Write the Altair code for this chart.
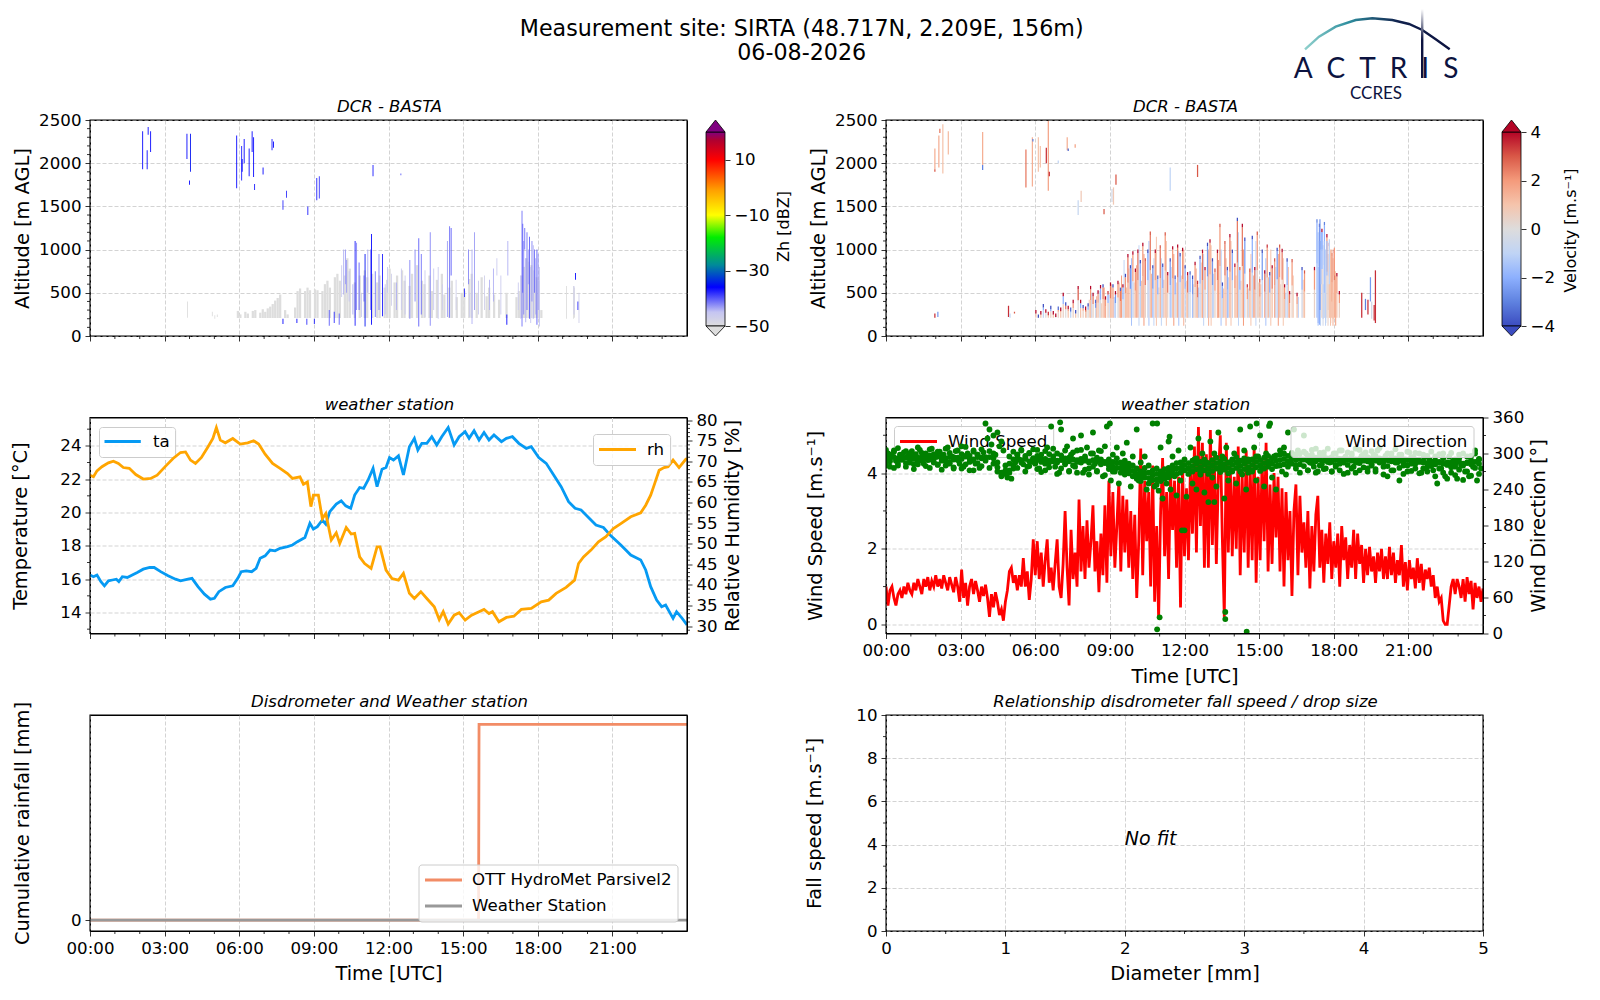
import altair as alt
import numpy as np
import pandas as pd

FONT = "DejaVu Sans"
W, H = 597, 216

# ---------- weather station: temperature / humidity
ta_h = [0,.14,.28,.44,.58,.74,.9,1.06,1.16,1.3,1.5,1.7,1.9,2.14,2.4,2.58,2.84,3.14,3.44,3.64,3.94,4.1,4.34,4.6,4.84,5,5.18,5.44,5.74,5.94,6.08,6.28,6.5,6.68,6.84,7.04,7.24,7.44,7.64,7.94,8.14,8.34,8.64,8.84,8.98,9.14,9.34,9.48,9.64,9.9,10.1,10.28,10.48,10.64,10.84,11,11.18,11.38,11.54,11.74,11.9,12.04,12.2,12.4,12.6,12.84,13.04,13.18,13.34,13.54,13.74,13.94,14.14,14.4,14.64,14.84,15.08,15.24,15.44,15.64,15.84,16.04,16.24,16.54,16.74,16.98,17.24,17.54,17.74,18.04,18.34,18.64,18.94,19.24,19.5,19.74,20.04,20.34,20.64,20.94,21.34,21.74,22.14,22.34,22.54,22.78,22.98,23.14,23.44,23.58,23.78,24]
ta_v = [16.25,16.15,16.25,15.85,15.6,15.9,15.95,16.0,15.85,16.15,16.1,16.25,16.4,16.6,16.7,16.7,16.45,16.2,16.0,15.9,16.0,16.05,15.55,15.1,14.8,14.85,15.25,15.5,15.6,16.05,16.45,16.5,16.45,16.65,17.25,17.4,17.75,17.7,17.85,17.95,18.05,18.25,18.5,19.35,19.0,19.15,19.55,19.3,20.05,20.5,20.7,20.4,20.25,21.05,21.5,21.45,21.95,22.65,21.55,22.6,22.7,23.3,23.15,23.4,22.25,23.95,24.45,23.75,24.15,24.15,24.55,24.05,24.55,25.1,24.05,24.55,24.85,24.45,24.9,24.35,24.8,24.35,24.65,24.25,24.45,24.55,24.15,23.85,23.95,23.3,22.95,22.25,21.55,20.65,20.25,20.15,19.7,19.25,19.1,18.6,18.05,17.45,17.15,16.55,15.55,14.75,14.35,14.45,13.65,14.05,13.7,13.25]
rh_h = [0,.14,.28,.48,.74,.94,1.14,1.34,1.58,1.84,2.14,2.44,2.7,3.04,3.34,3.64,3.84,4.04,4.24,4.48,4.74,4.94,5.08,5.24,5.44,5.74,6.04,6.34,6.58,6.78,7.04,7.34,7.64,7.94,8.14,8.44,8.58,8.74,8.88,8.98,9.18,9.34,9.48,9.7,9.9,10.04,10.3,10.5,10.64,10.84,11.04,11.3,11.54,11.66,11.9,12.14,12.4,12.6,12.84,13.04,13.3,13.54,13.84,14.04,14.2,14.4,14.64,14.84,15.08,15.34,15.64,15.84,16.04,16.18,16.44,16.74,17.04,17.34,17.74,18.14,18.44,18.74,19.14,19.48,19.64,19.84,20.14,20.44,20.74,21.04,21.34,21.74,22.14,22.34,22.54,22.7,22.88,23.08,23.24,23.44,23.68,23.94,24]
rh_v = [66.65,66.25,67.7,68.7,69.65,70.05,69.5,68.5,68.3,66.8,65.7,65.85,66.65,68.85,70.7,72.15,72.3,70.3,69.5,70.95,73.5,75.55,78.2,75.15,74.5,75.55,74.2,74.5,75,74.2,71.75,69.5,68.3,67.05,65.85,66.25,64.45,65,59,61.8,61.8,56.1,57.35,50.9,52.65,50.05,53.95,52.35,52.5,46.8,45.2,44,49.25,49.25,43.6,41.55,41.15,42.8,37.95,36.7,38.35,36.7,34.7,31.6,33.5,30.5,32.65,33.25,31.45,32.65,33.5,34.05,33.05,33.5,31.05,32.1,32.4,34.05,34.3,35.9,36.3,37.95,39.4,41.15,45.2,46.8,48.45,50.45,51.7,53.7,54.9,56.55,57.5,59.35,61.8,64.6,67.85,68.5,68.7,70.3,68.5,70.45,70.7]

# ---------- weather station: wind (one reading every 0.08 h)
STEP = 0.08
wind_speed = [
 1.0,0.5,0.9,1.0,0.7,0.5,0.8,0.9,0.7,1.0,0.8,1.1,0.9,0.8,1.1,0.9,1.2,1.0,0.8,1.2,1.0,1.25,0.9,1.15,1.0,
 1.3,1.0,1.2,0.95,1.3,1.1,0.9,1.25,1.05,0.85,1.25,1.0,0.6,1.45,0.7,1.1,0.5,1.0,1.2,0.8,1.15,0.9,0.6,1.0,0.75,
 1.05,0.7,0.2,0.8,0.45,0.85,0.6,0.25,0.4,0.1,0.6,0.9,1.4,1.5,1.1,1.3,0.9,1.3,1.0,1.75,1.0,1.4,0.65,1.2,2.25,
 1.3,2.2,1.2,1.9,1.0,1.7,2.25,1.1,1.5,0.9,1.6,2.25,1.0,0.7,1.6,3.0,1.5,0.5,2.5,1.2,1.9,1.0,3.3,1.4,2.6,
 1.2,2.75,1.5,2.2,3.15,1.4,2.2,0.85,2.4,1.3,3.15,1.1,3.8,1.8,3.5,1.5,2.6,3.75,1.4,3.4,1.9,3.3,1.5,3.0,1.2,
 2.9,0.7,2.2,4.65,1.3,3.8,2.2,3.5,1.0,4.2,0.6,2.6,0.15,3.0,4.4,1.8,3.5,1.2,4.0,2.5,3.8,1.5,3.9,0.45,4.3,
 1.8,3.6,1.7,4.2,2.4,4.7,1.9,5.22,2.6,4.8,1.5,4.5,1.5,5.14,2.1,4.5,1.6,3.9,5.0,2.3,0.2,4.8,1.9,4.2,1.8,
 3.9,2.0,4.7,1.3,3.9,1.9,4.6,1.5,4.2,1.7,4.7,1.1,3.9,1.7,4.4,2.2,4.8,1.4,3.7,1.6,4.0,2.3,3.9,1.4,3.6,
 1.0,3.5,1.7,3.0,0.75,3.0,3.7,1.3,3.4,1.9,2.7,1.5,3.0,0.95,2.6,1.4,2.9,3.4,1.5,2.5,1.1,2.4,1.6,2.7,1.2,2.2,
 1.5,2.4,1.0,2.6,1.7,2.3,1.2,2.1,1.5,2.5,1.2,2.4,1.6,2.1,1.1,2.0,1.3,2.05,1.4,1.8,1.1,1.9,1.4,2.0,1.2,
 1.8,1.2,2.05,1.3,1.9,1.1,1.7,1.3,2.1,1.0,1.65,0.9,1.7,1.2,1.5,0.95,1.75,1.1,1.6,0.9,1.45,1.2,1.5,1.0,1.3,
 0.7,1.0,0.6,0.7,0.1,0,0,0.5,1.0,1.2,0.8,1.2,1.0,0.7,1.2,0.6,1.25,0.8,1.15,0.4,1.1,0.7,1.0,0.6,0.95]
wind_dir = [
 285,300,278,296,305,288,280,298,292,302,284,296,290,304,282,299,287,306,291,283,300,289,297,308,285,
 294,282,303,288,298,280,310,285,295,275,304,290,283,312,278,296,300,272,288,305,283,298,276,292,302,
 350,325,340,315,330,298,335,312,320,305,280,260,268,258,275,285,298,290,305,282,296,278,300,287,292,
 283,306,275,298,288,272,310,285,345,295,278,300,268,340,290,282,312,270,298,325,278,305,287,330,268,
 292,310,275,300,335,283,270,305,288,262,312,345,280,255,298,270,310,250,285,300,265,318,278,245,295,
 270,340,255,285,262,295,240,280,255,350,245,275,238,310,225,265,250,320,240,295,262,230,305,255,280,
 172,228,275,310,250,290,240,325,265,300,235,285,219,320,260,300,245,335,275,295,225,310,255,285,270,
 300,250,285,340,265,305,240,290,345,270,310,255,295,330,275,245,300,285,350,260,295,240,280,305,270,
 310,265,335,285,295,340,275,305,268,290,330,300,272,285,298,278,308,270,295,282,302,275,290,285,270,
 300,280,292,272,305,285,295,268,290,300,278,308,285,272,296,288,302,275,292,280,298,270,305,285,290,
 278,296,262,288,300,272,292,285,255,298,280,290,270,302,283,294,275,288,300,268,285,295,278,290,282,
 272,295,250,285,275,300,262,282,295,268,288,278,258,292,280,300,270,285,262,296,278,305,255,290,275]
CORE_STEP = 0.16
dir_core_upper = [306,298,303,309,297,304,300,296,310,301,295,307,299,303,296,308,301,294,305,299,311,296,303,298,307,294,304,300,
 285,268,272,
 295,303,298,306,292,301,307,296,290,304,299,308,288,297,305,293,302,289,306,295,287,300,293,304,286,
 290,286,292,284,288,283,
 280,275,270,276,268,272,266,270,274,
 276,280,284,
 285,290,284,288,292,286,290,284,289,293,287,291,285,290,294,288,292,286,290,295,289,293,296,292,297,
 298,300,296,301,298,300,
 303,296,306,293,301,297,308,294,300,305,292,302,297,290,306,299,294,304,296,309,291,300,295,307,298,290,303,294,301,288,298,
 296,303,288,299,292,285,301,290,298,283,295,289,300,291]
dir_core_mid = [293,291,294,292,290,293,295,291,293,294,292,290,293,295,291,292,294,290,293,291,295,292,290,294,293,291,294,292,
 277,265,269,
 283,290,292,288,291,287,292,289,286,291,288,290,285,289,292,287,290,286,291,288,285,289,287,290,284,
 282,278,284,276,280,275,
 271,266,262,268,259,264,257,262,266,
 268,272,275,
 276,281,275,279,283,277,281,275,280,284,278,282,276,281,285,279,283,277,281,286,280,284,287,283,288,
 289,291,287,292,289,291,
 290,288,291,287,290,288,292,286,289,291,287,290,288,286,291,289,287,290,288,292,286,289,287,291,288,285,289,287,290,286,288,
 284,287,282,286,283,281,285,282,286,280,284,282,286,283]
dir_core_lower = [280,287,276,284,290,278,285,274,282,288,279,276,286,281,273,287,283,277,289,275,282,286,272,284,279,288,276,283,
 270,262,266,
 272,281,276,285,270,279,286,274,269,283,277,287,266,275,284,271,280,268,285,273,265,278,271,282,264,
 274,270,276,268,272,267,
 262,258,254,260,250,256,248,254,258,
 260,264,266,
 268,272,266,270,274,268,272,266,271,275,269,273,267,272,276,270,274,268,272,277,271,275,278,274,279,
 280,282,278,283,280,282,
 279,272,284,268,280,274,286,270,278,283,266,281,275,268,284,277,270,282,274,287,265,279,272,285,276,266,280,271,283,267,275,
 270,279,262,275,268,258,277,264,273,256,270,263,276,266]
dir_out_h = [10.9, 11.0, 13.64, 13.64, 14.5, 13.2, 11.9, 11.4, 10.9, 7.0, 9.0, 14.9, 15.4]
dir_out_v = [7, 27, 36, 24, 3, 219, 172, 328, 350, 352, 350, 350, 346]

# ---------- rainfall
rain_h = [0, 15.62, 15.64, 24]
rain_parsivel = [0, 0, 1, 1]
rain_station_h = [0, 24]
rain_station = [0, 0]

# ---------- radar reflectivity
GRID_START = 5.8
zh_grey_top = [
 0,290,250,0,280,260,0,290,300,0,270,310,
 280,320,340,370,410,440,480,0,300,250,
 0,0,330,520,550,0,520,560,530,0,
 540,530,0,520,600,640,560,0,680,720,
 640,0,700,900,780,0,620,0,700,0,
 760,680,0,720,0,620,700,0,560,650,
 780,0,620,700,0,760,640,0,580,720,
 0,820,0,640,600,0,700,520,0,650,
 0,720,480,0,560,640,0,450,0,500,
 520,0,660,720,0,500,0,680,0,460,
 560,0,480,0,420,0,0,500,0,0,
 0,450,520,700,800,900,860,820,760,680,
 640,300,0]
zh_t = [2.1,2.28,2.32,2.42,3.88,3.98,4.02,5.88,6.08,6.1,6.18,6.38,6.5,6.56,6.6,6.94,7.3,7.36,7.74,7.88,8.74,9.1,9.2,11.36,12.48,
 3.9,4.9,5.0,5.1,19.14,19.42,19.46,
 7.74,8.3,8.7,9.0,9.6,9.8,10.0,
 10.18,10.3,10.64,10.7,11.04,11.0,11.3,11.26,11.74,11.94,12.5,12.84,13.2,13.3,13.66,13.98,14.44,14.5,15.04,15.34,15.44,15.84,16.04,16.34,16.74,16.78,
 17.3,17.35,17.38,17.42,17.46,17.5,17.55,17.6,17.65,17.7,17.75,17.8,17.85,17.9,17.95,18.0,18.05,
 19.5,19.6,19.64,19.44,
 10.1,10.25,10.4,10.55,10.8,10.9,11.15,11.45,11.6,11.85,12.1,12.3,12.65,13.05,13.45,13.8,14.15,14.35,14.7,15.2,15.25,15.6,16.2,16.5,17.2]
zh_z0 = [1930,1930,2330,2130,2050,1750,1900,1710,1800,1900,2000,1850,2130,1840,1690,1870,2150,2180,1460,1600,1400,1570,1590,1850,1860,
 210,230,200,220,200,200,210,
 140,150,130,140,120,150,130,
 480,500,120,300,110,400,130,300,230,500,300,200,110,250,120,200,210,700,450,140,300,300,300,700,130,700,
 200,110,500,250,1000,160,300,600,200,150,400,200,500,250,130,300,110,
 650,300,150,250,
 450,600,400,250,300,220,500,220,300,250,350,300,250,400,220,300,300,220,300,600,220,250,400,250,300]
zh_z1 = [2370,2150,2420,2370,2340,1800,2340,2320,2200,2050,2280,2170,2370,2300,1760,1950,2280,2250,1570,1680,1500,1830,1850,1980,1880,
 400,280,240,250,580,580,560,
 200,200,200,200,300,280,260,
 1000,880,1100,1080,950,700,1180,1000,950,800,780,880,1130,950,1200,800,1270,1250,550,1000,1200,700,650,900,250,1100,
 700,1450,1300,1100,1250,900,1200,1000,1150,800,1100,1050,1000,900,1000,950,800,
 730,400,500,580,
 820,1000,750,600,850,500,1000,750,950,600,720,620,700,1000,760,780,600,1100,650,1000,500,640,780,700,620]
zh_val = [-36,-36,-36,-36,-36,-36,-35,-36,-37,-36,-36,-36,-36,-36,-37,-36,-37,-36,-38,-38,-37,-37,-38,-37,-40,
 -50,-50,-50,-50,-50,-50,-50,
 -36,-36,-38,-37,-40,-38,-40,
 -44,-43,-37,-42,-35,-40,-36,-42,-37,-46,-46,-42,-40,-41,-42,-46,-41,-40,-38,-44,-43,-47,-44,-46,-36,-44,
 -45,-41,-40,-42,-41,-44,-41,-43,-40,-45,-42,-44,-41,-44,-40,-43,-45,
 -36,-36,-47,-46,
 -46,-43,-45,-44,-40,-46,-44,-41,-42,-45,-47,-44,-46,-42,-46,-45,-47,-43,-47,-42,-46,-46,-44,-46,-46]

# ---------- radar velocity
VEL_START = 6.0
vel_top = [300,250,290,370,310,280,350,290,260,340,
 330,500,390,350,330,420,300,580,420,360,
 340,380,580,500,420,530,590,600,460,520,
 620,600,520,640,560,600,720,950,820,980,
 780,1000,880,1080,900,1000,1210,820,1000,700,
 1050,840,1200,740,900,1040,700,1060,960,1020,
 820,740,750,700,860,640,930,1000,800,1080,
 1120,900,780,1000,1300,620,1100,800,1180,1000,
 840,1370,800,1300,1140,600,780,1160,800,1210,
 660,1000,760,1060,740,820,900,1020,1060,1010,
 600,900,520,890,0,500,0,800,760,0,
 0,0,800,1350,1300,1240,1320,1180,1080,960,
 1000,730,520]
vel_low = [1,0,1,-1,0,1,.5,1,0,.5,
 1,.5,0,1,-1,.5,1,0,1,.5,
 1,0,1,.5,-.5,1,0,1,1.5,.5,
 1,1.5,-1,0,1.5,-.5,1,1.5,.5,-1,
 1,1.5,-1,1.5,.5,-.5,1,-1.5,1,-.5,
 1.5,-1,1,.5,-1.5,1,-.5,1.5,-1,1,
 -1,1,-.5,-1.5,.5,1,-1,1.5,.5,-1,
 1,-1,.5,1.5,1,-.5,1,-1.5,1.5,-.5,
 1,1.5,-.5,1,-1,.5,1,-1,1.5,.5,
 1,-1,1.5,.5,-.5,1,1.5,-1,1,.5,
 1,-1,1.5,.5,0,1,0,-.5,1,0,
 0,0,.5,-1.5,-1,.5,-.5,.5,1,1.5,
 1.5,1,.5]
vel_mid = [2,-2,2.5,-2,2,2.5,-2,2,3,2,
 2,-2,2.5,2,-2.5,2,2.5,3,-2,2,
 2.5,-2,2,2.5,-2.5,2,-2,2.5,2,-2,
 2.5,2,-2.5,2,2.5,-2,2,2.5,-2.5,2,
 2,2.5,-2,2,2.5,-2,2.5,-2.5,2,-2,
 2.5,-2,2,2.5,-2.5,2,-2,2.5,-2,2,
 -2,2.5,-2,-2.5,2,2.5,-2,2.5,2,-2.5,
 2,-2.5,2,2.5,2,-2,2.5,-2,2.5,-2,
 2,2.5,-2,2.5,-2.5,2,2.5,-2,2.5,2,
 2,-2.5,2.5,2,-2,2.5,2,-2.5,2,2.5,
 2,-2,2.5,2,0,2,0,-2,2,0,
 0,0,2,-2,-2.5,-2,-2,2,2,2.5,
 2.5,2,2]
vel_cap = [4,-4,4,-4,4,3.5,-4,4,4,-3.5,
 4,4,-4,4,-3.5,4,-4,4,4,-4,
 4,-4,4,4,-3.5,4,4,-4,4,3.5,
 4,-4,4,4,-3.5,4,-4,4,-4,4,
 4,4,-4,4,3,-4,3,-4,4,-3.5,
 3,-4,3,4,-4,4,-3.5,4,-4,4,
 -4,4,-3.5,-4,4,3.5,-4,4,4,-4,
 4,-4,3,4,3,-4,3,-4,4,-4,
 4,-4,3,4,-4,3.5,3,-4,4,3,
 3,-4,4,3.5,-4,4,3,-4,3,4,
 4,-4,4,3,0,4,0,-4,3,0,
 0,0,4,-3,-4,4,-3,4,4,3,
 4,4,4]
VEL2_START = 8.05
vel2_top = [300,420,500,0,460,520,380,560,0,480,
 600,450,0,620,700,880,560,780,900,620,
 820,1050,640,950,0,1100,720,900,1150,560,
 900,650,1100,0,800,950,620,980,700,1000,
 640,700,0,600,780,560,850,950,0,1000,
 1050,720,0,880,1000,550,900,680,1100,0,
 700,1200,640,1000,0,550,950,700,1100,620,
 600,0,900,680,1000,0,800,950,600,900,
 500,800,0,700,0,450,0,650,0,0,
 0,0,0,1200,1100,1050,1000,950,1000,900,
 750]
vel2_v = [.5,1,-1,0,1.5,-.5,1,2,0,-1,
 1,-1.5,0,1.5,2,-1,1,1.5,-1.5,1,
 1.5,-1,1,2,0,-1.5,1.5,-1,1,.5,
 -1,1.5,1,0,-1,2,.5,-1.5,1,1.5,
 1,-1,0,.5,1.5,-1.5,1,-1,0,1.5,
 1,-1,0,2,-1.5,1,1.5,-1,1,0,
 1.5,-1,1,2,0,-.5,1,1.5,-1,.5,
 1,0,-1.5,1.5,1,0,-1,2,.5,1,
 -1,1.5,0,1,0,-1.5,0,1,0,0,
 0,0,0,-1.5,-1,-.5,-1,.5,1,1.5,
 1]
vex_t = [1.94,1.94,1.94,2.06,2.1,2.14,2.26,2.48,3.86,3.86,4.9,4.96,5.14,5.6,5.86,5.88,6.1,6.18,6.42,6.5,6.54,6.9,7.26,7.3,7.58,7.7,7.82,8.74,9.06,9.12,9.22,11.4,12.5,
 17.35,17.4,17.42,17.46,17.5,17.55,17.6,17.65,17.7,17.75,17.8,17.85,17.9,17.95,18.0,18.05,
 19.1,19.25,19.35,19.45,19.5,19.6,19.65]
vex_z0 = [1930,1900,210,220,1950,2350,1880,2100,1980,1920,220,210,260,1720,1730,2250,1900,1950,2000,1680,1850,2000,2150,2140,2180,1400,1550,1410,1550,1520,1750,1680,1840,
 150,130,300,600,1000,200,500,150,700,300,600,150,400,200,700,120,
 210,300,250,400,200,180,150]
vex_z1 = [2170,1930,260,280,2320,2400,2450,2370,2360,1980,350,260,280,2160,2300,2280,2300,2200,2180,2490,1900,2030,2300,2170,2220,1570,1680,1470,1700,1720,1870,1950,1980,
 800,1100,1350,1000,1200,600,1100,900,1100,600,1120,600,1000,500,1020,700,
 500,430,420,680,400,360,760]
vex_v = [1.5,3,3.5,-2.5,1.5,2.5,1,1.2,1.5,-3,3.5,-1,3,2.5,1.5,-3,1,1,3.5,1.8,3.5,-1,1.5,-3.5,1.8,-.8,.8,3,-.5,.8,3,-1,3,
 -1.5,-2,-2.5,-1.5,-2,-1,-1.5,-1,-1.5,.5,-1,1,1.5,1,2,1.5,
 3.5,-3,3.5,-2.5,-.5,3.5,3.5]

# ---------- colour bars
zh_stops = [-50, -45, -36, -28, -18, -10, -1, 10, 17, 20]
zh_colors = ["#dddddd", "#c5c5f2", "#0000ff", "#008a9a", "#00ee00", "#ffff00", "#ffa000", "#ff0000", "#b00030", "#800080"]
vel_stops = [-4, -3, -2, -1, 0, 1, 2, 3, 4]
vel_colors = ["#3b4cc0", "#5f82e0", "#8db0fe", "#c0d4f5", "#dddcdc", "#f5c4ac", "#f49a7b", "#d95847", "#b40426"]

hour_ticks = [0, 3, 6, 9, 12, 15, 18, 21]
hour_minor = [h for h in range(1, 24) if h % 3]
alt_ticks = [0, 500, 1000, 1500, 2000, 2500]
alt_minor = [v for v in range(100, 2500, 100) if v % 500]

# ---------- helpers
one = pd.DataFrame({"x0": [0.0], "y0": [0.0]})
xs = alt.Scale(domain=[0, 24], nice=False, zero=False)
alts = alt.Scale(domain=[0, 2500], nice=False, zero=False)
HOUR_LABEL = "(datum.value<10?'0':'')+datum.value+':00'"
TXT = 16.67


def xaxis_hours(labels, title=None):
    kw = dict(values=hour_ticks, grid=True, labels=labels, title=title)
    if labels:
        kw["labelExpr"] = HOUR_LABEL
    return alt.Axis(**kw)


def base(xscale, xaxis, yscale, yaxis):
    return alt.Chart(one).mark_point(opacity=0).encode(
        x=alt.X("x0:Q", scale=xscale, axis=xaxis),
        y=alt.Y("y0:Q", scale=yscale, axis=yaxis))


def base_y(yscale, yaxis):
    return alt.Chart(one).mark_point(opacity=0).encode(
        x=alt.value(0), y=alt.Y("y0:Q", scale=yscale, axis=yaxis))


def xminor(vals, scale):
    return alt.Chart(pd.DataFrame({"v": vals})).mark_rule(color="black", strokeWidth=0.8).encode(
        x=alt.X("v:Q", scale=scale, axis=None), y=alt.value(H), y2=alt.value(H + 3))


def yminor(vals, scale, right=False):
    a, b = (W, W + 3) if right else (0, -3)
    return alt.Chart(pd.DataFrame({"v": vals})).mark_rule(color="black", strokeWidth=0.8).encode(
        y=alt.Y("v:Q", scale=scale, axis=None), x=alt.value(a), x2=alt.value(b))


def box(x0, x1, y0, y1):
    return alt.Chart(one).mark_rect(fill="white", fillOpacity=0.8, stroke="#cccccc", strokeWidth=1, cornerRadius=3).encode(
        x=alt.value(x0), x2=alt.value(x1), y=alt.value(y0), y2=alt.value(y1))


def frame():
    return alt.Chart(one).mark_rect(fillOpacity=0, fill="white", stroke="black", strokeWidth=1.1).encode(
        x=alt.value(0), x2=alt.value(W), y=alt.value(0), y2=alt.value(H))


def glyph(x0, x1, y, color):
    return alt.Chart(one).mark_rule(color=color, strokeWidth=2.8).encode(
        x=alt.value(x0), x2=alt.value(x1), y=alt.value(y))


def label(x, y, text):
    return alt.Chart(one).mark_text(text=text, align="left", baseline="middle", fontSize=TXT, font=FONT, color="black").encode(
        x=alt.value(x), y=alt.value(y))


def ptitle(text):
    return alt.Chart(one).mark_text(text=text, align="center", baseline="alphabetic", fontSize=16.5, fontStyle="italic", font=FONT, color="black").encode(
        x=alt.value(W / 2 + 1), y=alt.value(-8))


def radar(df, stops, colors):
    return alt.Chart(df).mark_rect(clip=True).encode(
        x=alt.X("t0:Q", scale=xs, axis=None), x2="t1:Q",
        y=alt.Y("z0:Q", scale=alts, axis=None), y2="z1:Q",
        color=alt.Color("v:Q", scale=alt.Scale(domain=stops, range=colors, interpolate="rgb"), legend=None))


def colorbar(lo, hi, ticks, stops, colors, title, title_pad, title_y):
    cb = alt.Scale(domain=[lo, hi], range=[206, 12], nice=False, zero=False)
    grad = alt.LinearGradient(gradient="linear", x1=0, x2=0, y1=1, y2=0,
                              stops=[alt.GradientStop(color=c, offset=(s - lo) / (hi - lo)) for s, c in zip(stops, colors)])
    bar = alt.Chart(pd.DataFrame({"a": [lo], "b": [hi]})).mark_rect(fill=grad, stroke="black", strokeWidth=0.8).encode(
        x=alt.value(616), x2=alt.value(635),
        y=alt.Y("a:Q", scale=cb, axis=alt.Axis(orient="right", offset=38, values=ticks, grid=False, title=title, titleY=title_y,
                                               titleFontSize=16, titleAngle=270, titleBaseline="top", titlePadding=title_pad)),
        y2="b:Q")
    up = alt.Chart(pd.DataFrame({"v": [hi]})).mark_point(shape="M-1,0L0,-1.26L1,0Z", size=361, filled=True, fill=colors[-1], stroke="black", strokeWidth=0.8, opacity=1).encode(
        x=alt.value(625.5), y=alt.Y("v:Q", scale=cb, axis=None))
    dn = alt.Chart(pd.DataFrame({"v": [lo]})).mark_point(shape="M-1,0L0,1.05L1,0Z", size=361, filled=True, fill=colors[0], stroke="black", strokeWidth=0.8, opacity=1).encode(
        x=alt.value(625.5), y=alt.Y("v:Q", scale=cb, axis=None))
    return [bar, up, dn]


def finish(*layers):
    return alt.layer(*layers).resolve_scale(y="independent").resolve_axis(x="independent").properties(width=W, height=H)


# ---------- panel 1: reflectivity
grey_t = GRID_START + np.arange(len(zh_grey_top)) * 0.1
grey = pd.DataFrame({"t0": grey_t, "t1": grey_t + 0.09, "z0": 208.0, "z1": zh_grey_top, "v": -50.0})
grey = grey[grey.z1 > 0]
streak = pd.DataFrame({"t0": zh_t, "t1": np.array(zh_t) + 0.035, "z0": zh_z0, "z1": zh_z1, "v": zh_val})
alt_axis = alt.Axis(values=alt_ticks, grid=True, title="Altitude [m AGL]", orient="left", format="d", titlePadding=6)
p1 = finish(
    base(xs, xaxis_hours(False), alts, alt_axis),
    radar(pd.concat([grey, streak]), zh_stops, zh_colors),
    frame(), xminor(hour_minor, xs), yminor(alt_minor, alts),
    *colorbar(-50, 20, [-50, -30, -10, 10], zh_stops, zh_colors, "Zh [dBZ]", 6, 106),
    ptitle("DCR - BASTA"),
)

# ---------- panel 2: velocity
vt = VEL_START + np.arange(len(vel_top)) * 0.1
vtop = np.array(vel_top, dtype=float)
keep = vtop > 0
vt2 = VEL2_START + np.arange(len(vel2_top)) * 0.1
vtop2 = np.array(vel2_top, dtype=float)
vel_seg = pd.concat([
    pd.DataFrame({"t0": vt2, "t1": vt2 + 0.04, "z0": np.where(vtop2 >= 900, 120.0, 210.0), "z1": vtop2, "v": vel2_v}),
    pd.DataFrame({"t0": vt, "t1": vt + 0.05, "z0": 210.0, "z1": 210 + (vtop - 210) * 0.55, "v": vel_low})[keep],
    pd.DataFrame({"t0": vt, "t1": vt + 0.05, "z0": 210 + (vtop - 210) * 0.55, "z1": vtop - 40, "v": vel_mid})[keep],
    pd.DataFrame({"t0": vt, "t1": vt + 0.05, "z0": vtop - 40, "z1": vtop, "v": vel_cap})[keep],
    pd.DataFrame({"t0": vex_t, "t1": np.array(vex_t) + 0.05, "z0": vex_z0, "z1": vex_z1, "v": vex_v}),
])
vel_seg = vel_seg[vel_seg.z1 > vel_seg.z0]

# logo (drawn in this panel's pixel frame)
LOGO_X = [419, 433, 449.7, 469.7, 486.3, 506.3, 523, 536.3, 549.7, 563.7]
LOGO_Y = [-70.7, -83.3, -93.3, -100, -101.7, -100, -96, -90, -80.7, -70.7]
logo_arc = alt.Chart(pd.DataFrame({"lx": LOGO_X, "ly": LOGO_Y})).mark_line(
    strokeWidth=2.4,
    stroke=alt.LinearGradient(gradient="linear", x1=0, x2=1, y1=0, y2=0, stops=[
        alt.GradientStop(color="#8fd0cc", offset=0), alt.GradientStop(color="#2f8f9f", offset=0.3),
        alt.GradientStop(color="#10204c", offset=0.65), alt.GradientStop(color="#0c1340", offset=1)])
).encode(x=alt.X("lx:Q", scale=None, axis=None), y=alt.Y("ly:Q", scale=None, axis=None), order="lx:Q")
logo_mast = alt.Chart(one).mark_rect(fill=alt.LinearGradient(gradient="linear", x1=0, x2=0, y1=0, y2=1, stops=[
    alt.GradientStop(color="#ffffff", offset=0), alt.GradientStop(color="#0c1340", offset=0.45), alt.GradientStop(color="#0c1340", offset=1)])
).encode(x=alt.value(535), x2=alt.value(537.4), y=alt.value(-111), y2=alt.value(-42))
logo_word = alt.Chart(one).mark_text(text="A\u2002C\u2002T\u2002R\u2002I\u2002S", font="Lato", fontSize=28, color="#0c1340", align="center", baseline="alphabetic").encode(
    x=alt.value(490), y=alt.value(-42))
logo_ccres = alt.Chart(one).mark_text(text="CCRES", font="Lato", fontSize=17, color="#0c1340", align="center", baseline="alphabetic").encode(
    x=alt.value(490), y=alt.value(-21))

p2 = finish(
    base(xs, xaxis_hours(False), alts, alt_axis),
    radar(vel_seg, vel_stops, vel_colors),
    frame(), xminor(hour_minor, xs), yminor(alt_minor, alts),
    *colorbar(-4, 4, [-4, -2, 0, 2, 4], vel_stops, vel_colors, "Velocity [m.s\u207b\u00b9]", 8, 110),
    logo_arc, logo_mast, logo_word, logo_ccres,
    ptitle("DCR - BASTA"),
)

# ---------- panel 3: temperature / humidity
ts = alt.Scale(domain=[12.74, 25.7], nice=False, zero=False)
rs = alt.Scale(domain=[28.2, 80.65], nice=False, zero=False)
ta_line = alt.Chart(pd.DataFrame({"h": ta_h, "v": ta_v})).mark_line(color="#069AF3", strokeWidth=2.8, clip=True).encode(
    x=alt.X("h:Q", scale=xs, axis=None), y=alt.Y("v:Q", scale=ts, axis=None))
rh_line = alt.Chart(pd.DataFrame({"h": rh_h, "v": rh_v})).mark_line(color="#FFA500", strokeWidth=2.8, clip=True).encode(
    x=alt.X("h:Q", scale=xs, axis=None), y=alt.Y("v:Q", scale=rs, axis=None))
p3 = finish(
    base(xs, xaxis_hours(False), ts, alt.Axis(orient="left", values=list(range(14, 26, 2)), grid=True, title="Temperature [\u00b0C]", titlePadding=29)),
    base_y(rs, alt.Axis(orient="right", values=list(range(30, 85, 5)), grid=False, title="Relative Humidity [%]", titleAngle=270, titleBaseline="top", titlePadding=6)),
    ta_line,
    box(9.5, 85.6, 10, 40), glyph(14.5, 50.8, 24, "#069AF3"), label(63, 24, "ta"),
    rh_line,
    box(503.5, 580.6, 17, 48), glyph(509, 546, 32, "#FFA500"), label(557, 32, "rh"),
    frame(), xminor(hour_minor, xs), yminor([v for v in range(13, 26) if v % 2], ts),
    yminor([v for v in range(29, 81) if v % 5], rs, right=True),
    ptitle("weather station"),
)

# ---------- panel 4: wind
ws = alt.Scale(domain=[-0.24, 5.47], nice=False, zero=False)
ds = alt.Scale(domain=[0, 360], nice=False, zero=False)
wt = np.arange(len(wind_speed)) * STEP
speed_line = alt.Chart(pd.DataFrame({"h": wt, "v": wind_speed})).mark_line(color="red", strokeWidth=2.8, clip=True).encode(
    x=alt.X("h:Q", scale=xs, axis=None), y=alt.Y("v:Q", scale=ws, axis=None))
core_t = list(np.arange(len(dir_core_upper)) * CORE_STEP)
dirs = pd.DataFrame({"h": list(np.arange(len(wind_dir)) * STEP) + dir_out_h + core_t + core_t + core_t,
                     "v": wind_dir + dir_out_v + dir_core_upper + dir_core_mid + dir_core_lower})
dir_pts = alt.Chart(dirs).mark_circle(color="green", size=34, opacity=1, clip=True).encode(
    x=alt.X("h:Q", scale=xs, axis=None), y=alt.Y("v:Q", scale=ds, axis=None))
p4 = finish(
    base(xs, xaxis_hours(True, "Time [UTC]"), ws, alt.Axis(orient="left", values=[0, 2, 4], grid=True, title="Wind Speed [m.s\u207b\u00b9]", titlePadding=41)),
    base_y(ds, alt.Axis(orient="right", values=list(range(0, 420, 60)), grid=False, title="Wind Direction [\u00b0]", titleAngle=270, titleBaseline="top", titlePadding=6)),
    speed_line,
    box(8.5, 167.7, 9, 40), glyph(14, 51, 24, "red"), label(62, 24, "Wind Speed"),
    dir_pts,
    box(405, 588, 9, 40), label(459, 24, "Wind Direction"),
    frame(), xminor(hour_minor, xs), yminor([1, 3, 5], ws),
    yminor(list(range(30, 360, 60)), ds, right=True),
    ptitle("weather station"),
)

# ---------- panel 5: rain
rs5 = alt.Scale(domain=[-0.056, 1.0475], nice=False, zero=False)
rain1 = alt.Chart(pd.DataFrame({"h": rain_h, "v": rain_parsivel})).mark_line(color="#F28C66", strokeWidth=2.8, clip=True).encode(
    x=alt.X("h:Q", scale=xs, axis=None), y=alt.Y("v:Q", scale=rs5, axis=None))
rain2 = alt.Chart(pd.DataFrame({"h": rain_station_h, "v": rain_station})).mark_line(color="#999999", strokeWidth=2.8, clip=True).encode(
    x=alt.X("h:Q", scale=xs, axis=None), y=alt.Y("v:Q", scale=rs5, axis=None))
p5 = finish(
    base(xs, xaxis_hours(True, "Time [UTC]"), rs5, alt.Axis(orient="left", values=[0], grid=False, title="Cumulative rainfall [mm]", titlePadding=38)),
    rain1, rain2,
    box(329, 588, 150, 207), glyph(335, 372, 165, "#F28C66"), label(382, 165, "OTT HydroMet Parsivel2"),
    glyph(335, 372, 191, "#999999"), label(382, 191, "Weather Station"),
    frame(), xminor(hour_minor, xs),
    ptitle("Disdrometer and Weather station"),
)

# ---------- panel 6: fall speed
dia = alt.Scale(domain=[0, 5], nice=False, zero=False)
fs = alt.Scale(domain=[0, 10], nice=False, zero=False)
nofit = alt.Chart(pd.DataFrame({"d": [2.0], "s": [4.0]})).mark_text(text="No fit", align="left", baseline="alphabetic", fontSize=19, fontStyle="italic", font=FONT, color="black").encode(
    x=alt.X("d:Q", scale=dia, axis=None), y=alt.Y("s:Q", scale=fs, axis=None))
p6 = finish(
    base(dia, alt.Axis(values=[0, 1, 2, 3, 4, 5], grid=True, title="Diameter [mm]", format="d"), fs,
         alt.Axis(orient="left", values=[0, 2, 4, 6, 8, 10], grid=True, title="Fall speed [m.s\u207b\u00b9]", format="d", titlePadding=31)),
    nofit, frame(), xminor([.5, 1.5, 2.5, 3.5, 4.5], dia), yminor([1, 3, 5, 7, 9], fs),
    ptitle("Relationship disdrometer fall speed / drop size"),
)

chart = alt.concat(
    p1, p2, p3, p4, p5, p6, columns=2, bounds="flush",
    spacing=alt.RowColnumber(row=81.5, column=199),
    title=alt.TitleParams(text=["Measurement site: SIRTA (48.717N, 2.209E, 156m)", "06-08-2026"],
                          fontSize=22.2, fontWeight="normal", font=FONT, anchor="middle", color="black",
                          lineHeight=24, dx=7, offset=-56),
).resolve_scale(color="independent").properties(
    background="white", padding={"left": 2, "right": 5, "top": 0, "bottom": 5}
).configure_view(stroke="black", strokeWidth=1
).configure_axis(
    labelFont=FONT, titleFont=FONT, labelFontSize=TXT, titleFontSize=19.4, titleFontWeight="normal",
    labelColor="black", titleColor="black", tickColor="black", tickWidth=0.8, tickSize=5,
    domain=False, grid=False, gridColor="#d3d3d3", gridDash=[4, 2], gridWidth=1,
    labelFlush=False, labelOverlap=False, labelPadding=4, titlePadding=8,
)

chart.save("out.html", embed_options={"renderer": "svg", "actions": False})
